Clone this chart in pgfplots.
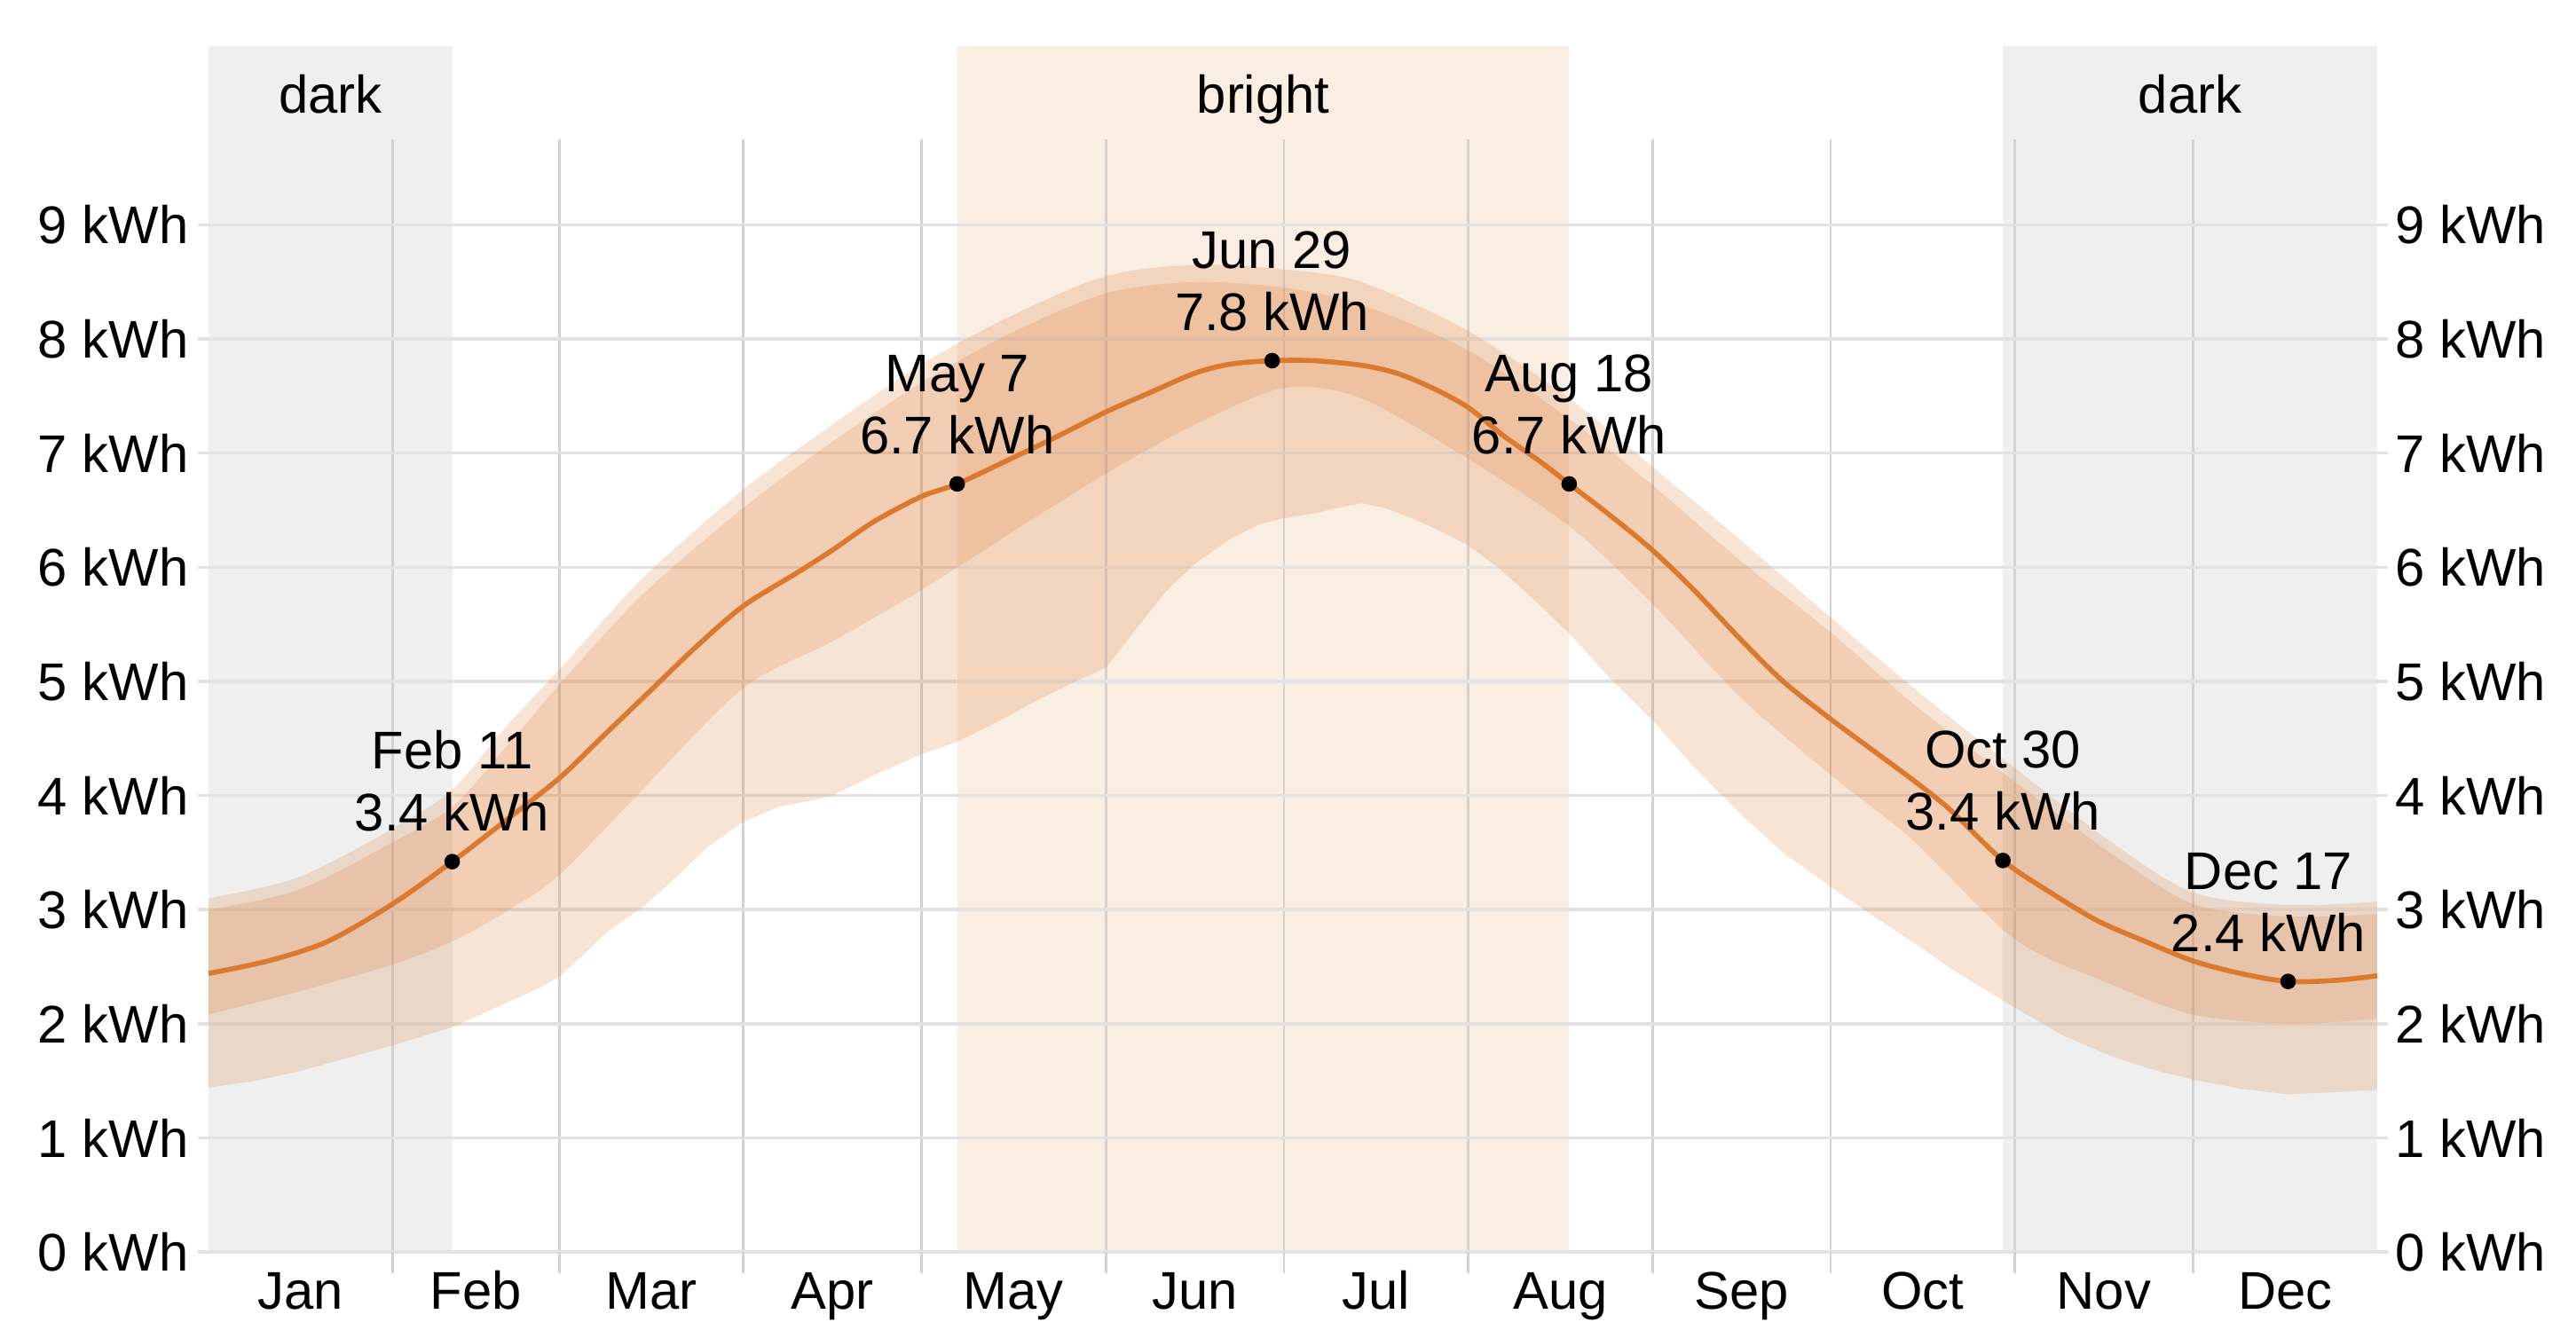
\documentclass[border=0pt]{standalone}
\usepackage{fontspec}
\setmainfont{Liberation Sans}
\usepackage{pgfplots}
\pgfplotsset{compat=1.18}
\usepackage{pgfplotstable}
\usepgfplotslibrary{fillbetween}

\definecolor{lineorange}{RGB}{219,121,46}
\definecolor{darkbg}{RGB}{239,239,239}
\definecolor{brightbg}{RGB}{250,237,226}
\definecolor{gridh}{RGB}{226,226,226}
\definecolor{gridv}{RGB}{210,210,210}

% percentile bands (day of year)
\pgfplotstableread{
day p90 p75 p25
0   3.10 3.00 2.08
15  3.28 3.17 2.28
31  3.71 3.59 2.52
41  4.05 3.90 2.72
50  4.60 4.42 2.98
59  5.10 4.97 3.30
73  5.90 5.76 4.05
90  6.68 6.52 4.94
105 7.25 7.10 5.35
120 7.78 7.62 5.80
135 8.20 8.05 6.30
151 8.55 8.40 6.82
166 8.65 8.50 7.25
181 8.61 8.45 7.57
194 8.50 8.30 7.48
212 8.07 7.90 6.95
229 7.48 7.30 6.36
243 6.88 6.72 5.68
258 6.23 6.05 4.85
273 5.56 5.43 4.18
287 4.94 4.80 3.60
304 4.24 4.12 2.74
320 3.60 3.50 2.35
334 3.15 3.05 2.08
350 3.04 2.94 2.00
365 3.07 2.96 2.04
}\bands

\pgfplotstableread{
day p10
0   1.44
8   1.50
15  1.58
22  1.68
31  1.81
41  1.97
50  2.18
56  2.32
59  2.41
63  2.60
67  2.80
73  3.02
78  3.25
84  3.55
90  3.77
96  3.90
101 3.95
105 4.00
112 4.18
120 4.36
126 4.47
133 4.65
140 4.85
146 5.00
151 5.12
156 5.45
161 5.78
166 6.03
172 6.25
177 6.38
181 6.43
186 6.47
190 6.52
194 6.56
198 6.52
203 6.42
208 6.30
212 6.19
217 6.00
223 5.72
229 5.42
236 5.02
243 4.66
250 4.25
258 3.83
265 3.50
273 3.20
280 2.95
287 2.71
293 2.49
304 2.14
312 1.90
320 1.72
327 1.60
334 1.51
342 1.43
350 1.38
358 1.40
365 1.42
}\lowband

\pgfplotstableread{
day kwh
0   2.44
10  2.55
20  2.72
31  3.05
41  3.42
50  3.78
59  4.15
66  4.50
74  4.90
82  5.30
90  5.66
99  5.95
105 6.15
112 6.40
120 6.62
126 6.73
135 6.95
143 7.15
151 7.36
158 7.52
166 7.70
172 7.78
179 7.81
186 7.81
194 7.77
200 7.70
206 7.57
212 7.40
218 7.15
224 6.93
229 6.73
236 6.45
243 6.15
250 5.80
258 5.36
265 5.00
273 4.67
280 4.40
287 4.13
293 3.88
302 3.43
310 3.15
318 2.90
326 2.72
334 2.55
342 2.44
350 2.37
358 2.38
365 2.42
}\mean

\newcommand{\lblfont}{\fontsize{17}{19.9}\selectfont}
\tikzset{lbl/.style={anchor=south, inner sep=0pt, align=center, yshift=0.33cm, font=\lblfont}}

\begin{document}
\begin{tikzpicture}
\begin{axis}[
    name=main, set layers, clip=false,
    scale only axis, width=24.68cm, height=12.54cm,
    xmin=-1.8, xmax=366.8, ymin=0, ymax=9.75,
    axis line style={draw=none},
    xtick={15.5,45,74.5,105,135.5,166,196.5,227.5,258,288.5,319,349.5},
    xticklabels={Jan,Feb,Mar,Apr,May,Jun,Jul,Aug,Sep,Oct,Nov,Dec},
    minor xtick={31,59,90,120,151,181,212,243,273,304,334},
    ytick={0,1,2,3,4,5,6,7,8,9},
    yticklabels={0 kWh,1 kWh,2 kWh,3 kWh,4 kWh,5 kWh,6 kWh,7 kWh,8 kWh,9 kWh},
    tick pos=left, tick align=outside,
    major tick length=0pt, minor tick length=0.24cm,
    minor tick style={gridv, line width=0.8pt},
    xmajorgrids=false, xminorgrids=true, ymajorgrids=true,
    minor x grid style={gridv, line width=0.8pt},
    major y grid style={gridh, line width=1pt},
    tick label style={font=\fontsize{17}{20}\selectfont},
    xticklabel style={anchor=base, inner sep=0pt, yshift=-0.64cm},
    yticklabel style={anchor=east, inner sep=0pt, xshift=-0.1cm},
]
% dark / bright periods
\addplot[draw=none, fill=darkbg, on layer=axis background] coordinates {(0,0) (41,0) (41,10.57) (0,10.57)};
\addplot[draw=none, fill=brightbg, on layer=axis background] coordinates {(126,0) (229,0) (229,10.57) (126,10.57)};
\addplot[draw=none, fill=darkbg, on layer=axis background] coordinates {(302,0) (365,0) (365,10.57) (302,10.57)};
\node[font=\lblfont, anchor=base] at (axis cs:20.5,9.98) {dark};
\node[font=\lblfont, anchor=base] at (axis cs:177.5,9.98) {bright};
\node[font=\lblfont, anchor=base] at (axis cs:333.5,9.98) {dark};

% 10th-90th and 25th-75th percentile bands
\addplot[name path=p90, draw=none, smooth] table[x=day, y=p90] {\bands};
\addplot[name path=p10, draw=none] table[x=day, y=p10] {\lowband};
\addplot[fill=lineorange, fill opacity=0.2, draw=none] fill between[of=p90 and p10];
\addplot[name path=p75, draw=none, smooth] table[x=day, y=p75] {\bands};
\addplot[name path=p25, draw=none, smooth] table[x=day, y=p25] {\bands};
\addplot[fill=lineorange, fill opacity=0.2, draw=none] fill between[of=p75 and p25];

% average daily energy
\addplot[lineorange, line width=1.6pt, smooth, tension=0.5] table[x=day, y=kwh] {\mean};
\addplot[only marks, mark=*, mark size=2.3pt, black] coordinates {
    (41,3.42) (126,6.73) (179,7.81) (229,6.73) (302,3.43) (350,2.37)};

\coordinate (L1) at (axis cs:41,3.42);
\coordinate (L2) at (axis cs:126,6.73);
\coordinate (L3) at (axis cs:179,7.81);
\coordinate (L4) at (axis cs:229,6.73);
\coordinate (L5) at (axis cs:302,3.43);
\coordinate (L6) at (axis cs:350,2.37);
\end{axis}

% right-hand labels
\begin{axis}[
    at={(main.south west)}, anchor=south west,
    scale only axis, width=24.68cm, height=12.54cm,
    xmin=-1.8, xmax=366.8, ymin=0, ymax=9.75,
    axis line style={draw=none},
    xtick=\empty,
    ytick={0,1,2,3,4,5,6,7,8,9},
    yticklabels={0 kWh,1 kWh,2 kWh,3 kWh,4 kWh,5 kWh,6 kWh,7 kWh,8 kWh,9 kWh},
    ytick pos=right, yticklabel pos=right,
    major tick length=0pt,
    tick label style={font=\fontsize{17}{20}\selectfont},
    yticklabel style={anchor=west, inner sep=0pt, xshift=0.08cm},
]
\end{axis}

\node[lbl] at (L1) {Feb 11\\3.4 kWh};
\node[lbl] at (L2) {May 7\\6.7 kWh};
\node[lbl] at (L3) {Jun 29\\7.8 kWh};
\node[lbl] at (L4) {Aug 18\\6.7 kWh};
\node[lbl] at (L5) {Oct 30\\3.4 kWh};
\node[lbl, xshift=-0.22cm] at (L6) {Dec 17\\2.4 kWh};

\path ([xshift=-2.23cm,yshift=-0.87cm]main.south west) rectangle ([xshift=2.12cm,yshift=1.57cm]main.north east);
\end{tikzpicture}
\end{document}
